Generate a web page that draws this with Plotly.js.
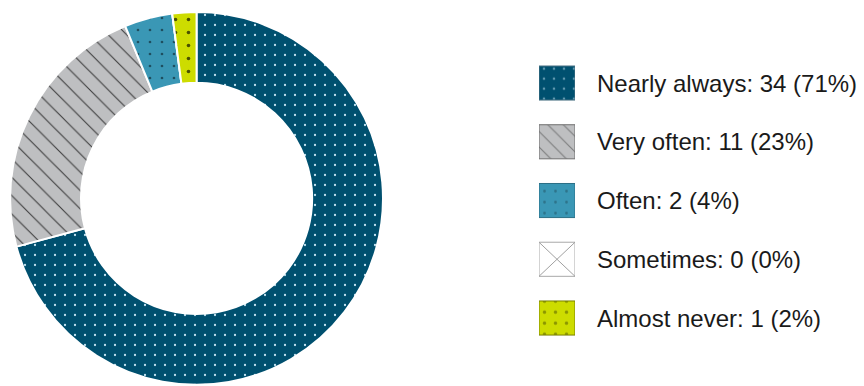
<!DOCTYPE html>
<html>
<head>
<meta charset="utf-8">
<script src="https://cdn.plot.ly/plotly-3.0.1.min.js"></script>
<style>
  html, body { margin: 0; padding: 0; background: #ffffff; }
  #chart { width: 864px; height: 386px; }
</style>
</head>
<body>
<div id="chart"></div>
<script>
// ---- data ----
const categories = ['Nearly always', 'Very often', 'Often', 'Sometimes', 'Almost never'];
const counts = [34, 11, 2, 0, 1];

// ---- styles ----
const fillColors = ['#00506F', '#BEBFC1', '#3A97B5', '#FFFFFF', '#CDDC00'];
const patternShapes = ['.', '\\', '.', '', '.'];
const patternFg = ['#BFE0EE', '#3A3A3A', '#1E4F60', '#999999', '#4A5000'];
const patternSize = [10, 13, 12, 10, 13];
const patternSolidity = [0.04, 0.08, 0.04, 0.1, 0.06];
const iconLine = ['#4d7486', '#6e6e6e', '#2b6f86', '#a8a8a8', '#7a8200'];
const FONT = '"Liberation Sans", Arial, sans-serif';

const total = counts.reduce((a, b) => a + b, 0);
const pct = counts.map(v => Math.round(100 * v / total));

const pie = {
  type: 'pie',
  labels: categories,
  values: counts,
  sort: false,
  direction: 'clockwise',
  rotation: 0,
  hole: 0.62,
  textinfo: 'none',
  hoverinfo: 'label+value+percent',
  showlegend: false,
  domain: { x: [0.0115, 0.4435], y: [0.003, 0.969] },
  marker: {
    colors: fillColors,
    line: { color: '#ffffff', width: 2 },
    pattern: {
      shape: patternShapes,
      fgcolor: patternFg,
      bgcolor: fillColors,
      size: patternSize,
      solidity: patternSolidity,
      fillmode: 'replace'
    }
  }
};

// legend icons: one bar per category
const icons = categories.map((c, i) => ({
  type: 'bar',
  orientation: 'h',
  x: [1],
  y: [i],
  width: 0.58,
  xaxis: 'x', yaxis: 'y',
  showlegend: false,
  hoverinfo: 'skip',
  marker: {
    color: fillColors[i],
    line: { color: iconLine[i], width: 1 },
    pattern: {
      shape: patternShapes[i],
      fgcolor: patternFg[i],
      size: Math.min(patternSize[i], 11),
      solidity: patternSolidity[i] * 1.3,
      fillmode: 'overlay'
    }
  }
}));

// X inside the "Sometimes" icon
const si = categories.indexOf('Sometimes');
const cross = {
  type: 'scatter', mode: 'lines',
  x: [0, 1, null, 0, 1],
  y: [si - 0.29, si + 0.29, null, si + 0.29, si - 0.29],
  xaxis: 'x', yaxis: 'y',
  line: { color: '#a0a0a0', width: 1 },
  showlegend: false, hoverinfo: 'skip'
};

const annotations = categories.map((c, i) => ({
  x: 1, y: i, xref: 'x', yref: 'y',
  xanchor: 'left', yanchor: 'middle', xshift: 20,
  showarrow: false,
  text: c + ': ' + counts[i] + ' (' + pct[i] + '%)',
  font: { family: FONT, size: 24, color: '#1a1a1a' }
}));

const layout = {
  width: 864, height: 386,
  margin: { l: 0, r: 0, t: 0, b: 0 },
  paper_bgcolor: '#ffffff', plot_bgcolor: 'rgba(0,0,0,0)',
  showlegend: false,
  barmode: 'overlay',
  xaxis: { domain: [539 / 864, 575 / 864], range: [0, 1], visible: false, fixedrange: true },
  yaxis: { domain: [0.1, 0.861], range: [4.5, -0.5], visible: false, fixedrange: true },
  annotations: annotations
};

Plotly.newPlot('chart', [pie].concat(icons, [cross]), layout, { displayModeBar: false, staticPlot: true });
</script>
</body>
</html>
